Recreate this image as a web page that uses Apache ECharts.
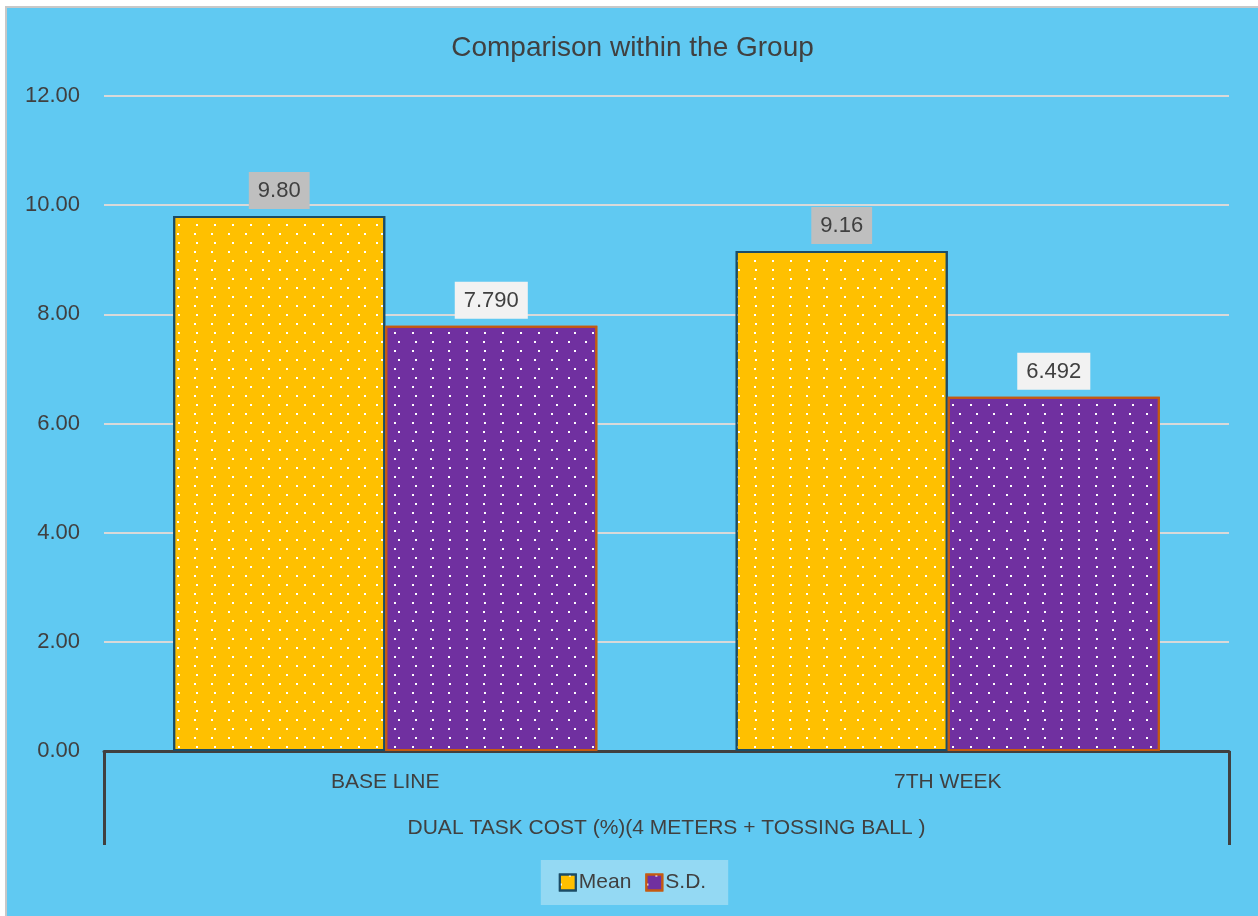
<!DOCTYPE html>
<html>
<head>
<meta charset="utf-8">
<script src="https://cdn.jsdelivr.net/npm/echarts@6/dist/echarts.min.js"></script>
<style>
  html, body { margin: 0; padding: 0; background: #ffffff; width: 1258px; height: 916px; overflow: hidden; }
  #frame { position: absolute; left: 5px; top: 6px; width: 1251px; height: 908px; border-left: 2px solid #c8c8c8; border-top: 2px solid #c8c8c8; background: #60c9f2; }
  #chart { width: 1251px; height: 908px; }
</style>
</head>
<body>
<div id="frame"><div id="chart"></div></div>
<script>
const categories = ['BASE LINE', '7TH WEEK'];
const groupLabel = ['DUAL TASK COST (%)(4 METERS + TOSSING BALL )'];
const meanValues = [9.80, 9.16];
const sdValues = [7.790, 6.492];
const seriesNames = ['Mean', 'S.D.'];
const titleText = 'Comparison within the Group';

const FONT = '"Liberation Sans", Arial, sans-serif';
const TXT = '#404040';

const decal = {
  symbol: 'rect',
  symbolSize: 1,
  color: '#ffffff',
  dashArrayX: [[2, 15], [0, 8.5, 2, 6.5]],
  dashArrayY: [2, 6.5],
  rotation: 0
};

const chart = echarts.init(document.getElementById('chart'), null, { renderer: 'canvas' });
chart.setOption({
  animation: false,
  backgroundColor: '#60c9f2',
  textStyle: { fontFamily: FONT, color: TXT },
  title: {
    text: titleText,
    left: 'center',
    top: 21,
    textStyle: { fontFamily: FONT, fontSize: 28, fontWeight: 'normal', color: TXT }
  },
  legend: {
    data: seriesNames,
    icon: 'rect',
    left: 'center',
    bottom: 11,
    backgroundColor: '#94d9f3',
    padding: [12, 22, 12, 18],
    itemWidth: 16,
    itemHeight: 16,
    itemGap: 14,
    textStyle: { fontFamily: FONT, fontSize: 21, color: TXT, padding: [0, 0, 0, -2] }
  },
  grid: { left: 97, right: 29, top: 88, bottom: 165, containLabel: false },
  xAxis: [
    {
      type: 'category',
      data: categories,
      axisLine: { show: true, lineStyle: { color: '#404040', width: 3 } },
      axisTick: { show: false },
      axisLabel: { fontFamily: FONT, fontSize: 21, color: TXT, margin: 21 }
    },
    {
      type: 'category',
      data: groupLabel,
      position: 'bottom',
      axisLine: { show: false },
      axisTick: { show: true, length: 94, lineStyle: { color: '#404040', width: 3 } },
      axisLabel: { fontFamily: FONT, fontSize: 21, color: TXT, margin: 67 }
    }
  ],
  yAxis: {
    type: 'value',
    min: 0,
    max: 12,
    interval: 2,
    axisLine: { show: false },
    axisTick: { show: false },
    splitLine: { lineStyle: { color: '#d9d9d9', width: 2 } },
    axisLabel: {
      fontFamily: FONT, fontSize: 22, color: TXT, margin: 24,
      formatter: v => v.toFixed(2)
    }
  },
  series: [
    {
      name: seriesNames[0],
      type: 'bar',
      xAxisIndex: 0,
      data: meanValues,
      barGap: '0%',
      barCategoryGap: '24.6%',
      itemStyle: { color: '#ffc000', borderColor: '#1b4c66', borderWidth: 2, decal: decal },
      label: {
        show: true, position: 'top', distance: 7,
        fontFamily: FONT, fontSize: 22, color: TXT,
        backgroundColor: '#bfbfbf', padding: [8, 9, 7, 9],
        formatter: p => p.value.toFixed(2)
      }
    },
    {
      name: seriesNames[1],
      type: 'bar',
      xAxisIndex: 0,
      data: sdValues,
      itemStyle: { color: '#7030a0', borderColor: '#c55a11', borderWidth: 2, decal: decal },
      label: {
        show: true, position: 'top', distance: 7,
        fontFamily: FONT, fontSize: 22, color: TXT,
        backgroundColor: '#f2f2f2', padding: [8, 9, 7, 9],
        formatter: p => p.value.toFixed(3)
      }
    }
  ]
});
</script>
</body>
</html>
